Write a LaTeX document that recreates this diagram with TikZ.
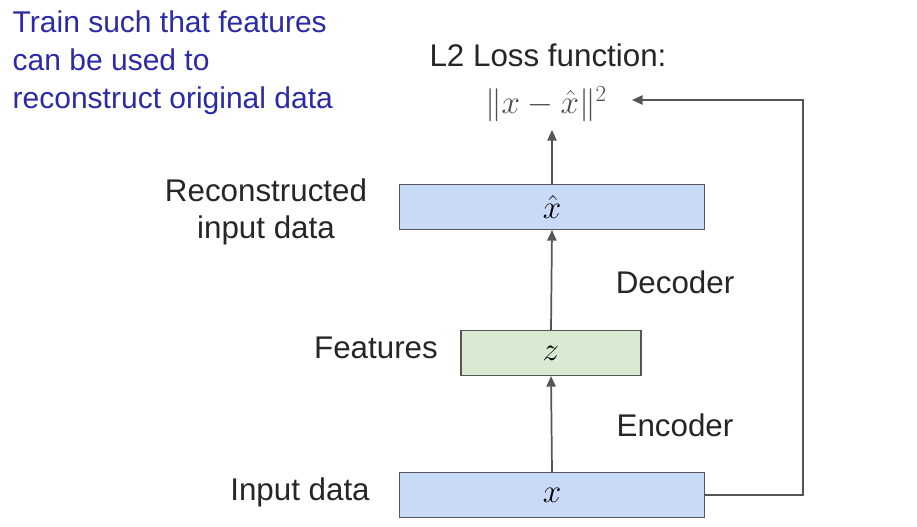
\documentclass[tikz,border=0pt]{standalone}
\usepackage{fontspec}
\setmainfont{Liberation Sans}
\usetikzlibrary{arrows.meta}
\definecolor{bbox}{HTML}{C9DAF8}
\definecolor{gbox}{HTML}{D9EAD3}
\definecolor{edge}{HTML}{555555}
\definecolor{ttl}{HTML}{2B2BA8}
\begin{document}
\begin{tikzpicture}[x=0.75pt,y=-0.75pt,
  box/.style={draw=edge,line width=0.8pt,minimum height=45*0.75pt,inner sep=0pt,font=\fontsize{26}{30}\selectfont},
  lbl/.style={font=\fontsize{23.5}{28}\selectfont,text=black!85},
  arr/.style={draw=edge,line width=1.3pt,-{Triangle[length=8pt,width=7pt]}}]
\useasboundingbox[fill=white] (0,0) rectangle (917,527);
\node[box,fill=bbox,minimum width=305*0.75pt] (xb) at (552,495) {$x$};
\node[box,fill=gbox,minimum width=180*0.75pt] (zb) at (551,353) {$z$};
\node[box,fill=bbox,minimum width=305*0.75pt] (xh) at (552,207) {$\hat{x}$};
\node[font=\fontsize{23}{27}\selectfont,text=black!70] (loss) at (546,104) {$\|x-\hat{x}\|^2$};
\node[lbl] (lt) at (548,55) {L2 Loss function:};
\node[lbl,align=center] (rl) at (266,212) {Reconstructed\\input data};
\node[lbl] (dl) at (675,282) {Decoder};
\node[lbl] (fl) at (376,348) {Features};
\node[lbl] (el) at (675,425) {Encoder};
\node[lbl] (il) at (300,492) {Input data};
\node[font=\fontsize{22.5}{28.5}\selectfont,text=ttl,align=left,anchor=north west] (tt) at (8,6) {Train such that features\\can be used to\\reconstruct original data};
\draw[arr] (xb.north) -- (zb.south);
\draw[arr] (zb.north) -- (xh.south);
\draw[arr] (xh.north) -- (552,130);
\coordinate (c1) at (803,495);
\coordinate (c2) at (803,100);
\draw[arr] (xb.east) -- (c1) -- (c2) -- (632,100);
\end{tikzpicture}
\end{document}
